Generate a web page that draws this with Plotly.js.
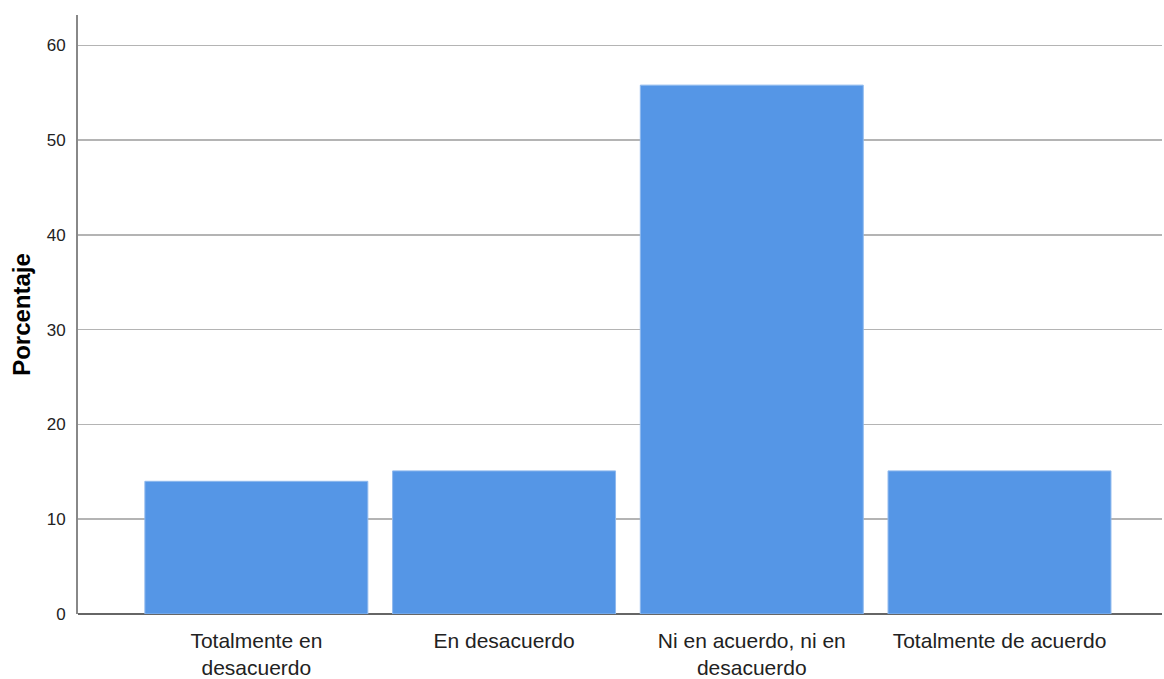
<!DOCTYPE html>
<html>
<head>
<meta charset="utf-8">
<script src="https://cdn.plot.ly/plotly-3.0.1.min.js"></script>
<style>html,body{margin:0;padding:0;background:#fff;}#chart{width:1164px;height:679px;}</style>
</head>
<body>
<div id="chart"></div>
<script>
const categories = ["Totalmente en<br>desacuerdo", "En desacuerdo", "Ni en acuerdo, ni en<br>desacuerdo", "Totalmente de acuerdo"];
const porcentaje = [14.0, 15.1, 55.8, 15.1];
const yTicks = [0, 10, 20, 30, 40, 50, 60];

const trace = {
  type: 'bar',
  x: [0, 1, 2, 3],
  y: porcentaje,
  marker: {color: '#5596e6', line: {color: '#8fb9ee', width: 1}},
  width: 0.9,
  hoverinfo: 'y'
};

const layout = {
  width: 1164, height: 679,
  margin: {l: 78, r: 2, t: 15, b: 65},
  paper_bgcolor: '#ffffff', plot_bgcolor: '#ffffff',
  font: {family: 'Liberation Sans, Arial, sans-serif', color: '#222'},
  showlegend: false,
  xaxis: {
    range: [-0.72, 3.656],
    tickvals: [0, 1, 2, 3],
    ticktext: categories,
    showgrid: false, zeroline: false,
    showline: false, ticks: '',
    ticklabelstandoff: 12,
    tickfont: {size: 21, color: '#222'}
  },
  yaxis: {
    range: [0, 63.2],
    tickvals: yTicks,
    ticktext: yTicks.map(String),
    showgrid: true, gridcolor: '#b4b4b4', gridwidth: 1.5,
    zeroline: true, zerolinecolor: '#666', zerolinewidth: 2,
    showline: true, linecolor: '#888', linewidth: 2,
    ticks: '', ticklabelstandoff: 7,
    tickfont: {size: 17, color: '#222'},
    title: {text: 'Porcentaje', font: {size: 24, color: '#000', weight: 'bold'}, standoff: 9}
  }
};

Plotly.newPlot('chart', [trace], layout, {displayModeBar: false, staticPlot: true});
</script>
</body>
</html>
